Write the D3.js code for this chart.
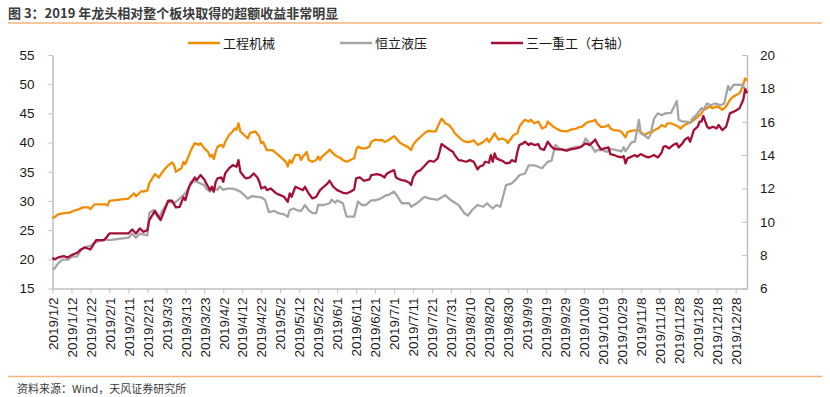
<!DOCTYPE html>
<html><head><meta charset="utf-8">
<script src="https://cdn.jsdelivr.net/npm/d3@7"></script>
<style>body{margin:0;background:#fff}svg{display:block}</style>
</head><body>
<svg id="c" width="830" height="397"></svg>
<script>
const title = "图 3：2019 年龙头相对整个板块取得的超额收益非常明显";
const source = "资料来源：Wind，天风证券研究所";
const seriesNames = ["工程机械", "恒立液压", "三一重工（右轴）"];
const seriesColors = ["#F28C00", "#A5A5A5", "#A50F37"];
const leftTicks = [15, 20, 25, 30, 35, 40, 45, 50, 55];
const rightTicks = [6, 8, 10, 12, 14, 16, 18, 20];
const xTickLabels = ["2019/1/2","2019/1/12","2019/1/22","2019/2/1","2019/2/11","2019/2/21","2019/3/3","2019/3/13","2019/3/23","2019/4/2","2019/4/12","2019/4/22","2019/5/2","2019/5/12","2019/5/22","2019/6/1","2019/6/11","2019/6/21","2019/7/1","2019/7/11","2019/7/21","2019/7/31","2019/8/10","2019/8/20","2019/8/30","2019/9/9","2019/9/19","2019/9/29","2019/10/9","2019/10/19","2019/10/29","2019/11/8","2019/11/18","2019/11/28","2019/12/8","2019/12/18","2019/12/28"];

// 工程机械 (left axis)
const gcjx = [["1/2",27.1],["1/3",27.2],["1/5",27.7],["1/8",27.9],["1/11",28.0],["1/14",28.4],["1/16",28.6],["1/18",28.9],["1/21",28.9],["1/22",28.6],["1/24",29.4],["1/30",29.4],["1/31",29.2],["2/1",30.0],["2/11",30.4],["2/12",30.7],["2/14",31.3],["2/15",30.8],["2/18",31.7],["2/19",31.6],["2/21",31.8],["2/22",33.0],["2/25",34.6],["2/27",34.0],["3/1",35.0],["3/4",36.1],["3/6",36.6],["3/7",36.2],["3/8",35.0],["3/11",35.6],["3/12",36.7],["3/13",36.3],["3/15",37.9],["3/16",38.7],["3/18",39.9],["3/20",39.6],["3/21",39.9],["3/23",39.0],["3/25",38.4],["3/26",37.6],["3/27",37.9],["3/28",37.2],["3/29",38.4],["3/30",39.3],["4/1",39.6],["4/2",39.2],["4/3",40.1],["4/5",41.3],["4/7",41.9],["4/8",42.4],["4/9",42.2],["4/10",43.3],["4/11",41.9],["4/13",41.3],["4/14",41.0],["4/15",40.7],["4/16",41.6],["4/19",41.9],["4/21",41.0],["4/22",39.9],["4/23",40.1],["4/25",38.7],["4/28",38.7],["4/29",38.4],["5/1",37.9],["5/3",37.3],["5/5",36.7],["5/6",35.9],["5/7",37.0],["5/8",36.5],["5/10",37.9],["5/12",37.9],["5/13",37.0],["5/14",37.6],["5/16",38.4],["5/17",37.0],["5/19",36.7],["5/21",37.0],["5/22",37.6],["5/23",37.0],["5/24",37.6],["5/27",38.4],["5/28",38.8],["5/30",38.1],["6/1",37.6],["6/3",37.3],["6/4",37.0],["6/6",36.7],["6/8",37.0],["6/10",37.3],["6/11",38.7],["6/12",39.3],["6/14",39.0],["6/16",39.0],["6/18",39.3],["6/19",40.1],["6/21",40.5],["6/23",40.4],["6/25",40.4],["6/26",40.1],["6/28",40.4],["7/1",41.1],["7/3",40.4],["7/4",40.0],["7/6",39.6],["7/8",39.3],["7/10",38.7],["7/11",39.6],["7/13",40.4],["7/15",41.0],["7/17",41.6],["7/19",42.0],["7/21",41.9],["7/23",41.9],["7/24",42.7],["7/26",44.1],["7/27",43.8],["7/28",43.3],["7/30",43.0],["8/1",42.2],["8/2",41.6],["8/4",41.0],["8/6",40.4],["8/8",40.1],["8/10",40.1],["8/12",40.4],["8/14",39.6],["8/16",39.9],["8/17",40.1],["8/19",40.7],["8/20",40.1],["8/22",41.0],["8/23",41.6],["8/24",41.0],["8/25",40.5],["8/27",40.7],["8/29",40.4],["8/30",39.9],["8/31",40.4],["9/2",41.3],["9/4",41.6],["9/5",42.7],["9/7",43.6],["9/8",43.9],["9/10",43.6],["9/11",43.9],["9/13",43.3],["9/15",43.6],["9/16",43.0],["9/17",42.4],["9/19",42.7],["9/20",43.6],["9/22",43.0],["9/23",42.7],["9/25",42.3],["9/27",42.0],["9/30",41.9],["10/2",42.2],["10/5",42.4],["10/7",42.7],["10/8",42.7],["10/10",43.3],["10/12",43.6],["10/14",43.7],["10/15",43.9],["10/16",43.3],["10/18",42.7],["10/20",42.7],["10/22",43.0],["10/23",42.4],["10/25",42.1],["10/27",42.1],["10/29",41.8],["10/30",41.3],["10/31",40.9],["11/1",41.8],["11/3",42.0],["11/5",42.1],["11/7",42.1],["11/8",41.8],["11/10",41.3],["11/12",41.7],["11/14",41.8],["11/15",42.1],["11/17",42.4],["11/19",43.0],["11/21",42.7],["11/22",43.3],["11/24",43.3],["11/26",43.0],["11/28",42.7],["11/29",42.4],["12/1",43.0],["12/3",43.3],["12/5",43.6],["12/6",43.9],["12/8",44.4],["12/10",45.0],["12/11",45.6],["12/13",45.9],["12/14",46.2],["12/16",45.9],["12/18",46.2],["12/20",45.9],["12/21",45.6],["12/23",46.2],["12/25",47.3],["12/27",47.9],["12/28",48.1],["12/30",48.4],["12/31",49.0],["2020/1/1",49.9],["2020/1/2",51.0],["2020/1/3",50.6]];

// 恒立液压 (left axis)
const hlyy = [["1/2",18.3],["1/3",18.4],["1/5",19.3],["1/7",19.9],["1/9",20.0],["1/10",19.9],["1/12",20.4],["1/15",20.5],["1/17",21.6],["1/19",22.1],["1/22",22.3],["1/25",23.0],["1/29",23.3],["1/30",23.4],["2/1",23.3],["2/11",23.7],["2/13",24.4],["2/15",23.7],["2/17",24.4],["2/21",24.1],["2/22",27.9],["2/24",28.4],["2/27",27.0],["3/1",28.4],["3/4",29.9],["3/7",29.6],["3/10",30.4],["3/13",31.3],["3/15",32.4],["3/16",33.3],["3/18",33.4],["3/19",33.3],["3/21",33.0],["3/23",32.7],["3/24",32.1],["3/26",31.6],["3/28",32.1],["3/30",31.9],["3/31",32.5],["4/2",31.9],["4/4",32.1],["4/7",32.1],["4/9",31.9],["4/11",31.6],["4/14",30.7],["4/15",30.4],["4/17",30.8],["4/20",30.7],["4/22",30.6],["4/24",30.2],["4/26",28.1],["4/29",28.3],["5/1",27.9],["5/4",27.7],["5/6",27.3],["5/7",28.4],["5/9",28.7],["5/11",28.4],["5/13",28.3],["5/15",29.3],["5/17",28.4],["5/19",27.9],["5/21",27.9],["5/22",29.3],["5/25",29.3],["5/28",29.6],["5/29",30.2],["5/31",29.7],["6/1",30.1],["6/4",29.6],["6/6",27.3],["6/10",27.3],["6/12",29.9],["6/14",29.3],["6/16",29.3],["6/19",30.1],["6/21",30.1],["6/24",30.4],["6/27",31.0],["6/28",31.0],["7/1",31.6],["7/3",30.7],["7/5",29.6],["7/9",29.6],["7/10",29.0],["7/13",29.6],["7/17",30.7],["7/20",30.4],["7/24",30.2],["7/28",31.0],["7/31",30.1],["8/4",29.3],["8/7",27.9],["8/9",27.5],["8/11",28.4],["8/13",29.0],["8/14",29.3],["8/17",29.0],["8/19",29.6],["8/22",28.7],["8/24",29.3],["8/26",29.0],["8/29",32.7],["9/1",33.0],["9/3",33.6],["9/5",34.4],["9/8",34.7],["9/10",36.1],["9/13",36.1],["9/17",35.6],["9/20",36.7],["9/22",36.9],["9/24",39.6],["9/26",39.0],["9/29",38.7],["10/2",39.0],["10/6",39.3],["10/8",39.3],["10/10",40.7],["10/12",39.9],["10/15",38.4],["10/16",38.7],["10/19",38.7],["10/21",38.4],["10/23",38.9],["10/26",38.7],["10/29",38.5],["10/30",39.2],["10/31",38.5],["11/3",40.0],["11/5",40.2],["11/7",43.9],["11/8",41.6],["11/11",41.0],["11/12",40.7],["11/13",41.3],["11/15",44.1],["11/17",45.0],["11/19",44.7],["11/21",45.0],["11/24",45.1],["11/27",47.1],["11/28",43.9],["11/30",43.6],["12/2",43.6],["12/4",43.3],["12/5",44.0],["12/7",44.6],["12/10",45.9],["12/11",45.6],["12/13",46.7],["12/15",46.4],["12/17",46.7],["12/20",46.4],["12/22",46.7],["12/24",49.7],["12/25",49.0],["12/27",49.9],["12/31",49.9],["2020/1/1",49.7],["2020/1/3",48.7]];

// 三一重工 (right axis)
const syzg = [["1/2",7.86],["1/3",7.74],["1/5",7.86],["1/8",7.94],["1/10",7.86],["1/12",8.0],["1/15",8.14],["1/17",8.34],["1/19",8.46],["1/22",8.34],["1/25",8.9],["1/29",8.9],["1/30",9.0],["2/1",9.3],["2/11",9.3],["2/13",9.54],["2/15",9.3],["2/17",9.6],["2/19",9.4],["2/21",9.5],["2/22",10.1],["2/25",10.66],["2/28",10.1],["3/1",10.4],["3/4",11.26],["3/6",11.26],["3/8",10.86],["3/10",10.9],["3/12",11.46],["3/13",11.3],["3/15",12.1],["3/18",12.66],["3/19",12.5],["3/21",12.8],["3/23",12.54],["3/24",12.3],["3/26",11.9],["3/27",12.1],["3/28",11.8],["3/29",12.4],["3/30",12.6],["4/1",12.66],["4/2",12.4],["4/3",12.9],["4/5",13.2],["4/7",13.4],["4/9",13.3],["4/10",13.7],["4/11",13.0],["4/13",12.7],["4/14",12.6],["4/16",12.66],["4/18",12.9],["4/20",12.66],["4/21",12.4],["4/22",12.0],["4/24",12.1],["4/25",11.9],["4/27",12.0],["4/29",11.8],["4/30",11.7],["5/2",11.6],["5/4",11.5],["5/6",11.2],["5/7",11.7],["5/8",11.5],["5/10",12.1],["5/12",12.0],["5/14",11.9],["5/15",12.1],["5/17",11.7],["5/19",11.4],["5/21",11.5],["5/22",11.7],["5/23",11.9],["5/25",12.1],["5/27",12.3],["5/28",12.46],["5/30",12.1],["6/1",11.9],["6/3",11.8],["6/4",11.74],["6/6",11.7],["6/8",11.8],["6/10",11.94],["6/11",12.6],["6/13",12.66],["6/15",12.46],["6/18",12.54],["6/19",12.8],["6/22",12.86],["6/24",12.8],["6/26",12.66],["6/27",12.86],["6/29",13.0],["7/1",13.1],["7/2",12.66],["7/4",12.54],["7/5",12.5],["7/7",12.46],["7/9",12.34],["7/10",12.2],["7/11",12.66],["7/13",13.0],["7/15",13.1],["7/17",13.34],["7/19",13.6],["7/20",13.66],["7/22",13.6],["7/24",13.8],["7/25",14.2],["7/26",14.66],["7/28",14.5],["7/30",14.34],["8/1",14.2],["8/2",14.0],["8/4",13.7],["8/6",13.66],["8/8",13.6],["8/10",13.7],["8/12",13.6],["8/14",13.14],["8/15",13.3],["8/17",13.4],["8/18",13.6],["8/20",13.54],["8/21",14.0],["8/22",13.6],["8/23",14.1],["8/24",13.8],["8/26",13.7],["8/27",13.66],["8/29",13.5],["8/31",13.54],["9/1",13.7],["9/3",13.6],["9/4",14.2],["9/5",14.6],["9/7",14.7],["9/8",14.8],["9/10",14.6],["9/11",14.7],["9/13",14.6],["9/15",14.66],["9/16",14.4],["9/18",14.3],["9/19",14.54],["9/20",14.8],["9/22",14.5],["9/23",14.4],["9/25",14.34],["9/27",14.34],["9/30",14.26],["10/2",14.34],["10/5",14.4],["10/7",14.46],["10/10",14.7],["10/12",14.6],["10/14",14.8],["10/15",14.94],["10/16",14.7],["10/18",14.34],["10/20",14.4],["10/22",14.46],["10/23",14.06],["10/25",14.0],["10/27",13.9],["10/29",13.86],["10/30",13.94],["10/31",13.5],["11/1",13.8],["11/3",13.9],["11/5",14.0],["11/6",13.9],["11/8",14.06],["11/10",13.94],["11/12",13.86],["11/13",13.9],["11/15",14.0],["11/17",13.86],["11/19",14.14],["11/20",14.5],["11/21",14.54],["11/23",14.4],["11/25",14.6],["11/27",14.7],["11/28",14.46],["11/30",14.7],["12/1",14.9],["12/3",15.06],["12/4",14.8],["12/5",15.14],["12/6",15.5],["12/8",15.7],["12/9",16.0],["12/10",16.0],["12/11",16.34],["12/13",15.7],["12/14",15.6],["12/16",15.7],["12/18",15.6],["12/19",15.8],["12/21",15.5],["12/22",15.6],["12/23",15.7],["12/25",16.5],["12/28",16.66],["12/30",16.8],["2020/1/1",17.3],["2020/1/2",17.94],["2020/1/3",17.7]];

const parseDate = s => {
  const p = s.split("/").map(Number);
  return p.length === 3 ? new Date(p[0], p[1] - 1, p[2]) : new Date(2019, p[0] - 1, p[1]);
};

const svg = d3.select("#c");
const plot = {left: 52.5, right: 747, top: 55, bottom: 288.5};
const latin = "'Liberation Sans', Arial, sans-serif";
const cjk = "'Noto Sans CJK SC', 'Noto Sans', sans-serif";

const x = d3.scaleTime()
  .domain([parseDate("2019/1/2"), parseDate("2020/1/3")])
  .range([plot.left, plot.right]);
const yL = d3.scaleLinear().domain([15, 55]).range([plot.bottom, plot.top]);
const yR = d3.scaleLinear().domain([6, 20]).range([plot.bottom, plot.top]);

// title + decoration rules
svg.append("text").attr("x", 8).attr("y", 17.5)
  .attr("font-family", cjk).attr("font-size", 13).attr("font-weight", "bold")
  .attr("fill", "#3a3a3a").text(title);
svg.append("line").attr("x1", 8).attr("x2", 822).attr("y1", 23).attr("y2", 23)
  .attr("stroke", "#F6B47E").attr("stroke-width", 1.5);
svg.append("line").attr("x1", 8).attr("x2", 822).attr("y1", 376.5).attr("y2", 376.5)
  .attr("stroke", "#F6B47E").attr("stroke-width", 1.5);
svg.append("text").attr("x", 17).attr("y", 393)
  .attr("font-family", cjk).attr("font-size", 11)
  .attr("fill", "#3a3a3a").text(source);

// axes
const axisColor = "#BFBFBF";
function styleAxis(g) {
  g.select(".domain").attr("stroke", axisColor).attr("stroke-width", 1.5);
  g.selectAll(".tick line").attr("stroke", axisColor).attr("stroke-width", 1);
  g.selectAll("text").attr("fill", "#1a1a1a").attr("font-family", latin);
}

const gL = svg.append("g").attr("transform", `translate(${plot.left},0)`)
  .call(d3.axisLeft(yL).tickValues(leftTicks).tickSize(4).tickSizeOuter(0).tickPadding(14));
styleAxis(gL);
gL.selectAll("text").attr("font-size", 13.5);

const gR = svg.append("g").attr("transform", `translate(${plot.right},0)`)
  .call(d3.axisRight(yR).tickValues(rightTicks).tickSize(-5).tickSizeOuter(0).tickPadding(13));
styleAxis(gR);
gR.selectAll("text").attr("font-size", 13.5);

const xTickDates = xTickLabels.map(parseDate);
const gX = svg.append("g").attr("transform", `translate(0,${plot.bottom})`)
  .call(d3.axisBottom(x).tickValues(xTickDates).tickSize(5).tickSizeOuter(0)
    .tickFormat((d, i) => xTickLabels[i]));
styleAxis(gX);
gX.selectAll("text")
  .attr("font-size", 13.5)
  .attr("transform", "rotate(-90)")
  .attr("text-anchor", "end")
  .attr("x", -9).attr("y", 0).attr("dy", "0.35em");

// lines
const series = [
  {data: gcjx, y: yL},
  {data: hlyy, y: yL},
  {data: syzg, y: yR}
];
series.forEach((s, i) => {
  const line = d3.line().x(d => x(parseDate(d[0]))).y(d => s.y(d[1]));
  svg.append("path").datum(s.data)
    .attr("d", line).attr("fill", "none")
    .attr("stroke", seriesColors[i]).attr("stroke-width", 2.3)
    .attr("stroke-linejoin", "round");
});

// legend
const legendX = [188, 340, 491];
seriesNames.forEach((name, i) => {
  const g = svg.append("g").attr("transform", `translate(${legendX[i]},43)`);
  g.append("line").attr("x1", 0).attr("x2", 32).attr("stroke", seriesColors[i]).attr("stroke-width", 2.5);
  g.append("text").attr("x", 35).attr("y", 4.5)
    .attr("font-family", cjk).attr("font-size", 13).attr("fill", "#1a1a1a").text(name);
});
</script>
</body></html>
